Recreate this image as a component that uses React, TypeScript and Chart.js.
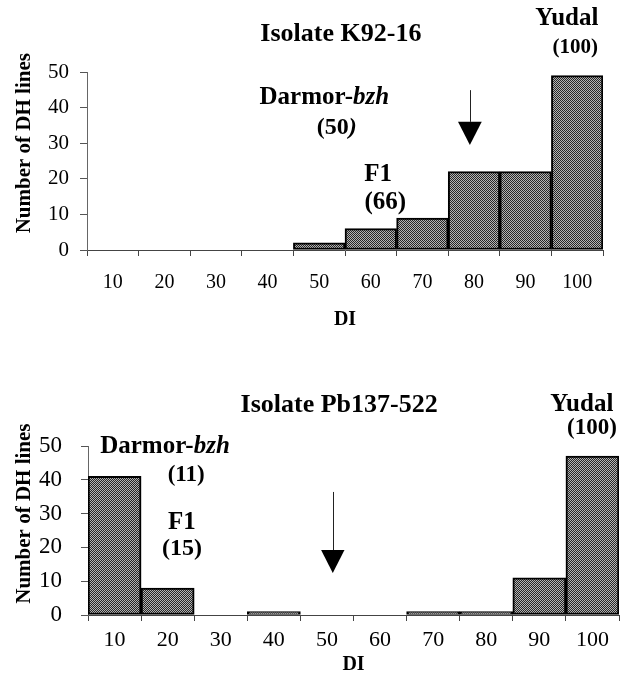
import React, { useEffect, useRef } from "react";
import { Chart, registerables } from "chart.js";

Chart.register(...registerables);

// ---------- data ----------
const diCategories = ["10", "20", "30", "40", "50", "60", "70", "80", "90", "100"];
const k92Counts = [0, 0, 0, 0, 2, 6, 9, 22, 22, 49];
const pb137Counts = [41, 8, 0, 1, 0, 0, 1, 1, 11, 47];
const yTickValues = [0, 10, 20, 30, 40, 50];
const yAxisTitle = "Number of DH lines";
const xAxisTitle = "DI";
const k92Title = "Isolate K92-16";
const pb137Title = "Isolate Pb137-522";
const k92Parents = ["Darmor-", "bzh", "(50", ")", "F1", "(66)", "Yudal", "(100)"];
const pb137Parents = ["Darmor-", "bzh", "(11)", "F1", "(15)", "Yudal", "(100)"];

// ---------- styling / layout (positions in data units of the chart) ----------
const FONT = "'Liberation Serif', 'Times New Roman', serif";

type Seg = { t: string; italic?: boolean };
type Label = { segs: Seg[]; x: number; y: number; size: number };
type Arrow = { x: number; top: number; headTop: number; tip: number; half: number };
type Layout = {
  title: Label;
  labels: Label[];
  arrow: Arrow;
  yTitleOffset: number;
  yTitleValue: number;
  yTitleSize: number;
};

const k92Layout: Layout = {
  title: { segs: [{ t: k92Title }], x: 4.42, y: 60.6, size: 26 },
  labels: [
    { segs: [{ t: k92Parents[0] }, { t: k92Parents[1], italic: true }], x: 4.1, y: 42.7, size: 25 },
    { segs: [{ t: k92Parents[2] }, { t: k92Parents[3], italic: true }], x: 4.34, y: 34.3, size: 24 },
    { segs: [{ t: k92Parents[4] }], x: 5.14, y: 21.1, size: 25 },
    { segs: [{ t: k92Parents[5] }], x: 5.28, y: 13.2, size: 25 },
    { segs: [{ t: k92Parents[6] }], x: 8.8, y: 65.0, size: 25 },
    { segs: [{ t: k92Parents[7] }], x: 8.96, y: 56.9, size: 21 },
  ],
  arrow: { x: 6.92, top: 44.9, headTop: 36.0, tip: 29.5, half: 0.23 },
  yTitleOffset: 62,
  yTitleValue: 30,
  yTitleSize: 21,
};

const pb137Layout: Layout = {
  title: { segs: [{ t: pb137Title }], x: 4.23, y: 62.1, size: 26 },
  labels: [
    { segs: [{ t: pb137Parents[0] }, { t: pb137Parents[1], italic: true }], x: 0.95, y: 49.7, size: 25 },
    { segs: [{ t: pb137Parents[2] }], x: 1.35, y: 41.4, size: 23 },
    { segs: [{ t: pb137Parents[3] }], x: 1.27, y: 27.5, size: 25 },
    { segs: [{ t: pb137Parents[4] }], x: 1.27, y: 19.5, size: 24 },
    { segs: [{ t: pb137Parents[5] }], x: 8.8, y: 62.4, size: 25 },
    { segs: [{ t: pb137Parents[6] }], x: 8.99, y: 55.3, size: 23 },
  ],
  arrow: { x: 4.11, top: 36.4, headTop: 19.2, tip: 12.4, half: 0.22 },
  yTitleOffset: 63,
  yTitleValue: 30,
  yTitleSize: 21,
};

function makePattern(): CanvasPattern | string {
  const c = document.createElement("canvas");
  c.width = 2;
  c.height = 2;
  const g = c.getContext("2d");
  if (!g) return "#707070";
  g.fillStyle = "#b4b4b4";
  g.fillRect(0, 0, 2, 2);
  g.fillStyle = "#262626";
  g.fillRect(0, 0, 1, 1);
  g.fillRect(1, 1, 1, 1);
  return g.createPattern(c, "repeat") || "#707070";
}

const annotationPlugin = {
  id: "annotations",
  afterDraw(chart: any, _args: any, opts: any) {
    const layout: Layout = opts.layout;
    if (!layout) return;
    const { ctx, scales } = chart;
    const x = scales.x;
    const y = scales.y;
    const x0 = x.getPixelForValue(0);
    const bw = x.getPixelForValue(1) - x0;
    const px = (i: number) => x0 + i * bw;
    const py = (v: number) => y.getPixelForValue(v);

    const drawLabel = (l: Label) => {
      ctx.save();
      ctx.fillStyle = "#000";
      ctx.textBaseline = "middle";
      ctx.textAlign = "left";
      const fonts = l.segs.map((s) => `${s.italic ? "italic " : ""}bold ${l.size}px ${FONT}`);
      let total = 0;
      const widths = l.segs.map((s, k) => {
        ctx.font = fonts[k];
        const w = ctx.measureText(s.t).width;
        total += w;
        return w;
      });
      let cx = px(l.x) - total / 2;
      const cy = py(l.y);
      l.segs.forEach((s, k) => {
        ctx.font = fonts[k];
        ctx.fillText(s.t, cx, cy);
        cx += widths[k];
      });
      ctx.restore();
    };

    drawLabel(layout.title);
    layout.labels.forEach(drawLabel);

    // arrow
    const a = layout.arrow;
    ctx.save();
    ctx.strokeStyle = "#222";
    ctx.lineWidth = 1;
    ctx.beginPath();
    ctx.moveTo(Math.round(px(a.x)) + 0.5, py(a.top));
    ctx.lineTo(Math.round(px(a.x)) + 0.5, py(a.headTop));
    ctx.stroke();
    ctx.fillStyle = "#000";
    ctx.beginPath();
    ctx.moveTo(px(a.x - a.half), py(a.headTop));
    ctx.lineTo(px(a.x + a.half), py(a.headTop));
    ctx.lineTo(px(a.x), py(a.tip));
    ctx.closePath();
    ctx.fill();
    ctx.restore();

    // y-axis title
    ctx.save();
    ctx.fillStyle = "#000";
    ctx.font = `bold ${layout.yTitleSize}px ${FONT}`;
    ctx.textAlign = "center";
    ctx.textBaseline = "middle";
    ctx.translate(chart.chartArea.left - layout.yTitleOffset, py(layout.yTitleValue));
    ctx.rotate(-Math.PI / 2);
    ctx.fillText(yAxisTitle, 0, 0);
    ctx.restore();
  },
};

type PanelProps = {
  counts: number[];
  layout: Layout;
  height: number;
  yWidth: number;
  xHeight: number;
  padTop: number;
  padRight: number;
  xTickSize: number;
  yTickSize: number;
  xTickPad: number;
  yTickPad: number;
  xTitlePad: number;
};

function Panel(p: PanelProps) {
  const ref = useRef<HTMLCanvasElement | null>(null);
  useEffect(() => {
    if (!ref.current) return;
    const pattern = makePattern();
    const chart = new Chart(ref.current, {
      type: "bar",
      data: {
        labels: diCategories,
        datasets: [
          {
            data: p.counts,
            backgroundColor: pattern as any,
            borderColor: "#000",
            borderWidth: 2,
            borderSkipped: false,
            barPercentage: 1,
            categoryPercentage: 1,
          },
        ],
      },
      plugins: [annotationPlugin],
      options: {
        animation: false,
        responsive: false,
        devicePixelRatio: 1,
        layout: { padding: { top: p.padTop, right: p.padRight, left: 0, bottom: 0 } },
        plugins: {
          legend: { display: false },
          tooltip: { enabled: false },
          title: { display: false },
          annotations: { layout: p.layout },
        } as any,
        scales: {
          x: {
            type: "category",
            offset: true,
            afterFit: (s: any) => {
              s.height = p.xHeight;
            },
            grid: {
              offset: true,
              drawOnChartArea: false,
              drawTicks: true,
              tickLength: 6,
              color: "#444",
            },
            border: { display: true, color: "#444", width: 1 },
            ticks: {
              color: "#000",
              padding: p.xTickPad,
              maxRotation: 0,
              autoSkip: false,
              font: { family: FONT, size: p.xTickSize },
            },
            title: {
              display: true,
              text: xAxisTitle,
              color: "#000",
              font: { family: FONT, size: 20, weight: "bold" },
              padding: { top: 0, bottom: p.xTitlePad },
            },
          },
          y: {
            min: 0,
            max: 50,
            afterFit: (s: any) => {
              s.width = p.yWidth;
            },
            afterBuildTicks: (s: any) => {
              s.ticks = yTickValues.map((v) => ({ value: v }));
            },
            grid: {
              drawOnChartArea: false,
              drawTicks: true,
              tickLength: 7,
              color: "#555",
            },
            border: { display: true, color: "#666", width: 1 },
            ticks: {
              color: "#000",
              padding: p.yTickPad,
              font: { family: FONT, size: p.yTickSize },
            },
          },
        },
      },
    });
    return () => chart.destroy();
  }, []);
  return (
    <div style={{ width: 629, height: p.height, position: "relative" }}>
      <canvas ref={ref} width={629} height={p.height} style={{ width: 629, height: p.height, display: "block" }} />
    </div>
  );
}

export default function App() {
  return (
    <div style={{ position: "absolute", left: 0, top: 0, width: 629, height: 696, background: "#fff" }}>
      <Panel
        counts={k92Counts}
        layout={k92Layout}
        height={345}
        yWidth={87}
        xHeight={95}
        padTop={72}
        padRight={26}
        xTickSize={20}
        yTickSize={21}
        xTickPad={15}
        yTickPad={11}
        xTitlePad={13}
      />
      <Panel
        counts={pb137Counts}
        layout={pb137Layout}
        height={351}
        yWidth={88}
        xHeight={81}
        padTop={101}
        padRight={10}
        xTickSize={22}
        yTickSize={23}
        xTickPad={6}
        yTickPad={19}
        xTitlePad={19}
      />
    </div>
  );
}
